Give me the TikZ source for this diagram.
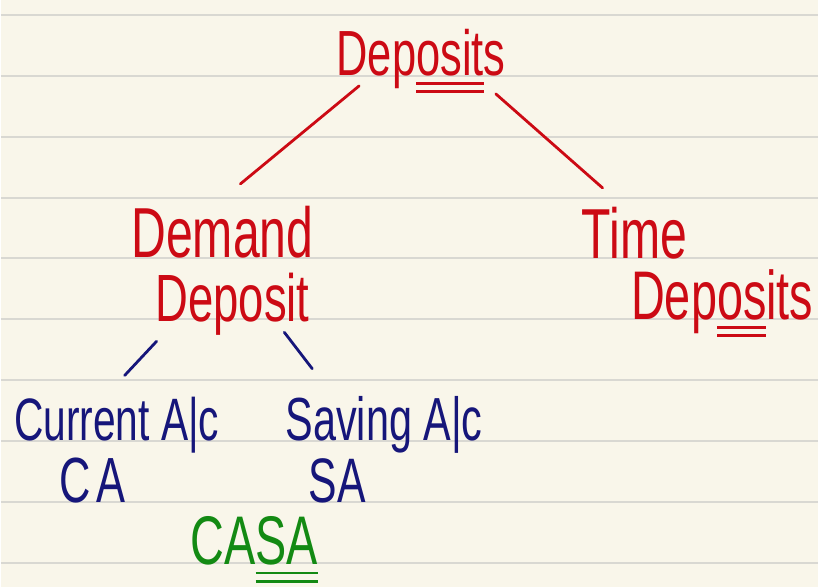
\documentclass[tikz,border=0pt]{standalone}
\usepackage{fontspec}
\setmainfont{Liberation Sans}
\newfontfamily\handfont[FakeStretch=0.68]{Liberation Sans}
\usetikzlibrary{positioning}

\definecolor{paper}{HTML}{F9F6EA}
\definecolor{ruling}{HTML}{D9D8D2}
\definecolor{penred}{HTML}{CC0A14}
\definecolor{penblue}{HTML}{16167A}
\definecolor{pengreen}{HTML}{138A13}

% double underline under part of a word
\newcommand{\dunder}[1]{\setbox0=\hbox{#1}%
  \rlap{\rule[-0.27ex]{\wd0}{0.08ex}}\rlap{\rule[-0.5ex]{\wd0}{0.08ex}}\box0}

\tikzset{
  word/.style={anchor=base,inner sep=0pt,font=\handfont},
  redword/.style={word,text=penred},
  blueword/.style={word,text=penblue},
  branch/.style={line width=2.8pt,line cap=round},
}

\begin{document}
\begin{tikzpicture}[x=1pt,y=1pt]
  \fill[paper] (0,0) rectangle (819,-588);
  \foreach \k in {0,...,9}
    \draw[ruling,line width=2pt] (0,-15-61*\k) -- (819,-15-61*\k);

  \node[redword,font=\handfont\fontsize{64}{64}\selectfont] (dep) at (421,-76) {Dep\dunder{osit}s};
  \node[redword,font=\handfont\fontsize{71}{71}\selectfont] (dem) at (222,-258) {Demand};
  \node[redword,font=\handfont\fontsize{67}{67}\selectfont] (dem2) at (232,-322) {Deposit};
  \node[redword,font=\handfont\fontsize{71}{71}\selectfont] (time) at (635,-259) {Time};
  \node[redword,font=\handfont\fontsize{69}{69}\selectfont] (time2) at (723,-320) {Dep\dunder{os}its};

  \node[blueword,font=\handfont\fontsize{60}{60}\selectfont] (cur) at (116,-442) {Current A|c};
  \node[blueword,font=\handfont\fontsize{64}{64}\selectfont] (cur2) at (92,-504) {C\kern6pt A};
  \node[blueword,font=\handfont\fontsize{61}{61}\selectfont] (sav) at (384,-442) {Saving A|c};
  \node[blueword,font=\handfont\fontsize{63}{63}\selectfont] (sav2) at (337,-504) {SA};

  \node[word,text=pengreen,font=\handfont\fontsize{69}{69}\selectfont] (casa) at (254,-566) {CA\dunder{SA}};

  \draw[branch,penred] ([xshift=-62pt,yshift=7pt]dep.south) -- ([xshift=18pt,yshift=22pt]dem.north);
  \draw[branch,penred] ([xshift=75pt,yshift=-1pt]dep.south) -- ([xshift=-32pt,yshift=19pt]time.north);
  \draw[branch,penblue] ([xshift=-76pt,yshift=-6pt]dem2.south) -- ([xshift=8pt,yshift=22pt]cur.north);
  \draw[branch,penblue] ([xshift=52pt,yshift=3pt]dem2.south) -- ([xshift=-72pt,yshift=28pt]sav.north);
\end{tikzpicture}
\end{document}
